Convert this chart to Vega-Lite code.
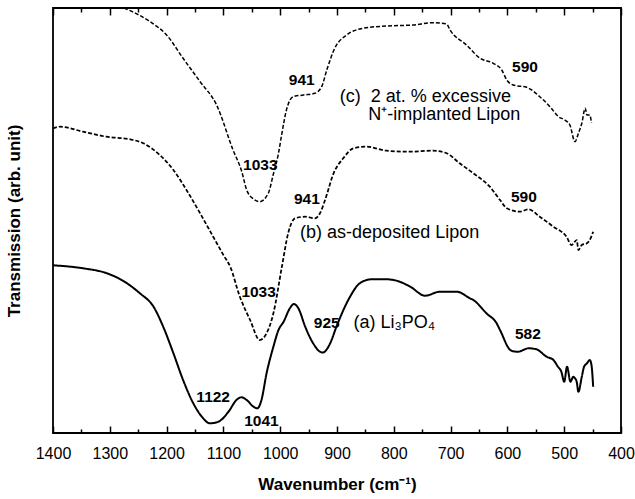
{
  "$schema": "https://vega.github.io/schema/vega-lite/v6.json",
  "width": 568,
  "height": 425,
  "autosize": {"type": "none"},
  "padding": {"left": 53, "top": 8, "right": 14, "bottom": 66},
  "background": "white",
  "config": {
    "view": {"stroke": "black", "strokeWidth": 1.8},
    "font": "Liberation Sans"
  },
  "datasets": {
    "curves": [
      {"w":1400,"t":167.7,"s":"a"},{"w":1347,"t":164.7,"s":"a"},{"w":1305,"t":159.7,"s":"a"},{"w":1276,"t":152,"s":"a"},{"w":1247,"t":139.7,"s":"a"},{"w":1223,"t":126.3,"s":"a"},{"w":1206,"t":106.3,"s":"a"},{"w":1188,"t":79.7,"s":"a"},{"w":1171,"t":53,"s":"a"},{"w":1153,"t":29.7,"s":"a"},{"w":1138,"t":16.3,"s":"a"},{"w":1124,"t":9.7,"s":"a"},{"w":1109,"t":11.3,"s":"a"},{"w":1091,"t":21.3,"s":"a"},{"w":1077,"t":33,"s":"a"},{"w":1068,"t":35.7,"s":"a"},{"w":1059,"t":33,"s":"a"},{"w":1047,"t":26.3,"s":"a"},{"w":1040,"t":24.7,"s":"a"},{"w":1033,"t":33,"s":"a"},{"w":1024,"t":59.7,"s":"a"},{"w":1012,"t":86.3,"s":"a"},{"w":1003,"t":103,"s":"a"},{"w":994,"t":111.3,"s":"a"},{"w":983,"t":124.7,"s":"a"},{"w":976,"t":129,"s":"a"},{"w":968,"t":124.7,"s":"a"},{"w":956,"t":106.3,"s":"a"},{"w":942,"t":89.7,"s":"a"},{"w":930,"t":81.3,"s":"a"},{"w":925,"t":80.5,"s":"a"},{"w":912,"t":89.7,"s":"a"},{"w":901,"t":106.3,"s":"a"},{"w":877,"t":136.3,"s":"a"},{"w":860,"t":149.7,"s":"a"},{"w":839,"t":153.7,"s":"a"},{"w":813,"t":153.7,"s":"a"},{"w":795,"t":152.3,"s":"a"},{"w":771,"t":146.3,"s":"a"},{"w":745,"t":137.3,"s":"a"},{"w":719,"t":141.3,"s":"a"},{"w":689,"t":141.3,"s":"a"},{"w":666,"t":134.7,"s":"a"},{"w":660,"t":133,"s":"a"},{"w":637,"t":119.7,"s":"a"},{"w":619,"t":109.7,"s":"a"},{"w":613,"t":103,"s":"a"},{"w":595,"t":83,"s":"a"},{"w":588,"t":81.5,"s":"a"},{"w":581,"t":81.3,"s":"a"},{"w":563,"t":84.7,"s":"a"},{"w":549,"t":83.7,"s":"a"},{"w":531,"t":76.3,"s":"a"},{"w":519,"t":73,"s":"a"},{"w":511,"t":66.3,"s":"a"},{"w":505,"t":61.3,"s":"a"},{"w":500,"t":51.3,"s":"a"},{"w":495,"t":66.3,"s":"a"},{"w":489,"t":51.3,"s":"a"},{"w":484,"t":56.3,"s":"a"},{"w":481,"t":54.7,"s":"a"},{"w":478,"t":51.3,"s":"a"},{"w":475,"t":41.3,"s":"a"},{"w":469,"t":56.3,"s":"a"},{"w":465,"t":66.3,"s":"a"},{"w":460,"t":69.7,"s":"a"},{"w":455,"t":73,"s":"a"},{"w":452,"t":68,"s":"a"},{"w":449,"t":46.3,"s":"a"},
      {"w":1400,"t":304.7,"s":"b"},{"w":1388,"t":306.3,"s":"b"},{"w":1347,"t":301.3,"s":"b"},{"w":1306,"t":296.3,"s":"b"},{"w":1264,"t":293.7,"s":"b"},{"w":1241,"t":289.7,"s":"b"},{"w":1212,"t":278,"s":"b"},{"w":1188,"t":263,"s":"b"},{"w":1165,"t":243,"s":"b"},{"w":1141,"t":219.7,"s":"b"},{"w":1118,"t":196.3,"s":"b"},{"w":1100,"t":178,"s":"b"},{"w":1088,"t":166.3,"s":"b"},{"w":1071,"t":136.3,"s":"b"},{"w":1053,"t":113,"s":"b"},{"w":1036,"t":93,"s":"b"},{"w":1024,"t":99.7,"s":"b"},{"w":1012,"t":119.7,"s":"b"},{"w":997,"t":166.3,"s":"b"},{"w":986,"t":199.7,"s":"b"},{"w":974,"t":214.7,"s":"b"},{"w":956,"t":216.3,"s":"b"},{"w":939,"t":214.7,"s":"b"},{"w":930,"t":219.7,"s":"b"},{"w":921,"t":233,"s":"b"},{"w":906,"t":259.7,"s":"b"},{"w":889,"t":274.7,"s":"b"},{"w":871,"t":284.7,"s":"b"},{"w":848,"t":286.3,"s":"b"},{"w":813,"t":282.3,"s":"b"},{"w":772,"t":281.3,"s":"b"},{"w":731,"t":282.3,"s":"b"},{"w":707,"t":279.7,"s":"b"},{"w":684,"t":269.7,"s":"b"},{"w":660,"t":259.7,"s":"b"},{"w":631,"t":246.3,"s":"b"},{"w":613,"t":233,"s":"b"},{"w":601,"t":224.7,"s":"b"},{"w":578,"t":221.3,"s":"b"},{"w":563,"t":223.7,"s":"b"},{"w":543,"t":216.3,"s":"b"},{"w":519,"t":206.3,"s":"b"},{"w":496,"t":196.3,"s":"b"},{"w":487,"t":188,"s":"b"},{"w":478,"t":193,"s":"b"},{"w":475,"t":183,"s":"b"},{"w":469,"t":188,"s":"b"},{"w":460,"t":189.7,"s":"b"},{"w":455,"t":193,"s":"b"},{"w":449,"t":201.3,"s":"b"},
      {"w":1275,"t":425,"s":"c"},{"w":1229,"t":411.3,"s":"c"},{"w":1200,"t":398,"s":"c"},{"w":1171,"t":374.7,"s":"c"},{"w":1141,"t":351.3,"s":"c"},{"w":1112,"t":328,"s":"c"},{"w":1083,"t":283,"s":"c"},{"w":1068,"t":262,"s":"c"},{"w":1059,"t":243,"s":"c"},{"w":1047,"t":234,"s":"c"},{"w":1036,"t":231.3,"s":"c"},{"w":1021,"t":239.7,"s":"c"},{"w":1012,"t":259,"s":"c"},{"w":1003,"t":279.7,"s":"c"},{"w":997,"t":299.7,"s":"c"},{"w":989,"t":323,"s":"c"},{"w":977,"t":336.3,"s":"c"},{"w":959,"t":338,"s":"c"},{"w":939,"t":339.7,"s":"c"},{"w":927,"t":346.3,"s":"c"},{"w":918,"t":363,"s":"c"},{"w":904,"t":384.7,"s":"c"},{"w":883,"t":398,"s":"c"},{"w":854,"t":404.7,"s":"c"},{"w":813,"t":407,"s":"c"},{"w":766,"t":408,"s":"c"},{"w":731,"t":410.3,"s":"c"},{"w":707,"t":409,"s":"c"},{"w":701,"t":403,"s":"c"},{"w":672,"t":388,"s":"c"},{"w":648,"t":374.7,"s":"c"},{"w":625,"t":369.7,"s":"c"},{"w":610,"t":363,"s":"c"},{"w":601,"t":353,"s":"c"},{"w":590,"t":348,"s":"c"},{"w":566,"t":345.7,"s":"c"},{"w":543,"t":336.3,"s":"c"},{"w":525,"t":326.3,"s":"c"},{"w":510,"t":316.3,"s":"c"},{"w":499,"t":313,"s":"c"},{"w":490,"t":308,"s":"c"},{"w":481,"t":291.3,"s":"c"},{"w":475,"t":299.7,"s":"c"},{"w":469,"t":309.7,"s":"c"},{"w":463,"t":324.7,"s":"c"},{"w":460,"t":318,"s":"c"},{"w":455,"t":318,"s":"c"},{"w":452,"t":310,"s":"c"}
    ],
    "bold": [
      {"w":962,"t":353,"label":"941"},
      {"w":1035,"t":268,"label":"1033"},
      {"w":569,"t":366.3,"label":"590"},
      {"w":953,"t":233.7,"label":"941"},
      {"w":571,"t":236.3,"label":"590"},
      {"w":1038,"t":141.3,"label":"1033"},
      {"w":1118,"t":36.3,"label":"1122"},
      {"w":1033,"t":12.3,"label":"1041"},
      {"w":918,"t":109.7,"label":"925"},
      {"w":564,"t":99,"label":"582"}
    ],
    "notes": [
      {"w":895,"t":336.3,"label":"(c)\u00a0\u00a02 at. % excessive"},
      {"w":845,"t":318,"label":"N⁺-implanted Lipon"},
      {"w":965,"t":199.7,"label":"(b) as-deposited Lipon"},
      {"w":871,"t":109.7,"label":"(a) Li₃PO₄"}
    ]
  },
  "resolve": {"axis": {"x": "independent", "y": "independent"}},
  "layer": [
    {
      "data": {"name": "curves"},
      "mark": {"type": "line", "color": "black", "clip": true, "interpolate": "monotone"},
      "encoding": {
        "x": {
          "field": "w", "type": "quantitative", "sort": "descending",
          "scale": {"domain": [400, 1400], "reverse": true, "nice": false},
          "axis": {
            "orient": "bottom",
            "values": [400,450,500,550,600,650,700,750,800,850,900,950,1000,1050,1100,1150,1200,1250,1300,1350,1400],
            "format": "d",
            "labelExpr": "datum.value % 100 === 0 ? datum.label : ''",
            "tickSize": {"condition": {"test": "datum.value % 100 === 0", "value": -7}, "value": -4},
            "tickColor": "black", "tickWidth": 1.5,
            "domain": false, "grid": false,
            "labelFontSize": 16, "labelColor": "black", "labelPadding": 19,
            "labelFlush": false,
            "title": "Wavenumber (cm⁻¹)", "titleFontSize": 17, "titleFontWeight": "bold",
            "titleColor": "black", "titlePadding": 15
          }
        },
        "y": {
          "field": "t", "type": "quantitative",
          "scale": {"domain": [0, 425], "nice": false, "zero": false},
          "axis": {
            "orient": "left", "ticks": false, "labels": false, "domain": false, "grid": false,
            "title": "Transmission (arb. unit)", "titleFontSize": 17, "titleFontWeight": "bold",
            "titleColor": "black", "titlePadding": 30
          }
        },
        "detail": {"field": "s"},
        "strokeDash": {
          "field": "s", "type": "nominal",
          "scale": {"domain": ["a", "b", "c"], "range": [[1, 0], [4, 2], [4, 2]]},
          "legend": null
        },
        "strokeWidth": {
          "field": "s", "type": "nominal",
          "scale": {"domain": ["a", "b", "c"], "range": [2, 1.5, 1.5]},
          "legend": null
        }
      }
    },
    {
      "data": {"name": "bold"},
      "mark": {"type": "text", "fontWeight": "bold", "fontSize": 15.5, "color": "black", "align": "center", "baseline": "middle"},
      "encoding": {
        "x": {
          "field": "w", "type": "quantitative",
          "scale": {"domain": [400, 1400], "reverse": true, "nice": false},
          "axis": {
            "orient": "top",
            "values": [400,450,500,550,600,650,700,750,800,850,900,950,1000,1050,1100,1150,1200,1250,1300,1350,1400],
            "labels": false,
            "tickSize": {"condition": {"test": "datum.value % 100 === 0", "value": -7}, "value": -4},
            "tickColor": "black", "tickWidth": 1.5,
            "domain": false, "grid": false, "title": null
          }
        },
        "y": {"field": "t", "type": "quantitative", "scale": {"domain": [0, 425], "nice": false, "zero": false}, "axis": null},
        "text": {"field": "label"}
      }
    },
    {
      "data": {"name": "notes"},
      "mark": {"type": "text", "fontSize": 18, "color": "black", "align": "left", "baseline": "middle"},
      "encoding": {
        "x": {"field": "w", "type": "quantitative", "scale": {"domain": [400, 1400], "reverse": true, "nice": false}, "axis": null},
        "y": {"field": "t", "type": "quantitative", "scale": {"domain": [0, 425], "nice": false, "zero": false}, "axis": null},
        "text": {"field": "label"}
      }
    }
  ]
}
